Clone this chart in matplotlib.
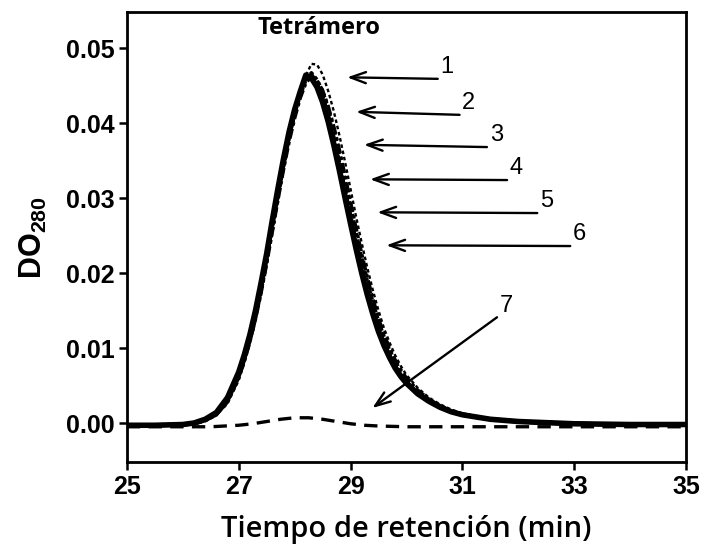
import matplotlib
matplotlib.use("Agg")
import matplotlib.pyplot as plt

# retention time grid (min)
t = [25.0, 25.5, 26.0, 26.2, 26.4, 26.6, 26.8,
     27.0, 27.1, 27.2, 27.3, 27.4, 27.5, 27.6, 27.7, 27.8, 27.9, 28.0, 28.1, 28.2, 28.3,
     28.4, 28.5, 28.6, 28.7, 28.8, 28.9, 29.0, 29.1, 29.2, 29.3, 29.4, 29.5, 29.6, 29.7,
     29.8, 29.9, 30.0, 30.2, 30.4, 30.6, 30.8, 31.0,
     31.5, 32.0, 33.0, 34.0, 35.0]

c1 = [-0.0003, -0.0003, -0.0003, -0.0002, 0.0003, 0.0010, 0.0026,
      0.0057, 0.0080, 0.0106, 0.0136, 0.0171, 0.0211, 0.0253, 0.0296, 0.0338, 0.0377, 0.0411, 0.0440, 0.0463, 0.0479,
      0.0478, 0.0465, 0.0443, 0.0416, 0.0384, 0.0349, 0.0312, 0.0275, 0.0240, 0.0207, 0.0177, 0.0150, 0.0126, 0.0107,
      0.0090, 0.0076, 0.0064, 0.0047, 0.0034, 0.0025, 0.0018, 0.0013,
      0.0005, 0.0001, -0.0002, -0.0003, -0.0003]
c2 = [-0.0003, -0.0003, -0.0002, 0.0000, 0.0005, 0.0014, 0.0034,
      0.0068, 0.0091, 0.0118, 0.0150, 0.0187, 0.0226, 0.0270, 0.0312, 0.0352, 0.0388, 0.0418, 0.0442, 0.0464, 0.0460,
      0.0448, 0.0428, 0.0402, 0.0371, 0.0337, 0.0301, 0.0266, 0.0232, 0.0200, 0.0171, 0.0145, 0.0122, 0.0103, 0.0087,
      0.0073, 0.0062, 0.0053, 0.0039, 0.0029, 0.0021, 0.0015, 0.0011,
      0.0005, 0.0002, -0.0001, -0.0002, -0.0002]
c3 = [-0.0003, -0.0003, -0.0002, -0.0001, 0.0004, 0.0012, 0.0031,
      0.0064, 0.0087, 0.0113, 0.0145, 0.0181, 0.0220, 0.0263, 0.0305, 0.0346, 0.0383, 0.0415, 0.0441, 0.0460, 0.0465,
      0.0453, 0.0436, 0.0411, 0.0381, 0.0347, 0.0311, 0.0276, 0.0241, 0.0208, 0.0178, 0.0151, 0.0127, 0.0107, 0.0090,
      0.0076, 0.0064, 0.0055, 0.0041, 0.0030, 0.0022, 0.0015, 0.0011,
      0.0005, 0.0002, -0.0001, -0.0002, -0.0002]
c4 = [-0.0003, -0.0003, -0.0002, 0.0000, 0.0005, 0.0013, 0.0033,
      0.0066, 0.0089, 0.0116, 0.0147, 0.0184, 0.0223, 0.0266, 0.0308, 0.0348, 0.0384, 0.0414, 0.0438, 0.0458, 0.0461,
      0.0450, 0.0431, 0.0406, 0.0376, 0.0342, 0.0306, 0.0271, 0.0237, 0.0204, 0.0174, 0.0148, 0.0125, 0.0105, 0.0089,
      0.0075, 0.0063, 0.0054, 0.0040, 0.0029, 0.0021, 0.0015, 0.0011,
      0.0005, 0.0002, -0.0001, -0.0002, -0.0002]
c5 = [-0.0003, -0.0003, -0.0002, -0.0001, 0.0003, 0.0011, 0.0029,
      0.0061, 0.0084, 0.0110, 0.0141, 0.0177, 0.0216, 0.0259, 0.0301, 0.0342, 0.0380, 0.0413, 0.0440, 0.0459, 0.0467,
      0.0458, 0.0443, 0.0420, 0.0392, 0.0360, 0.0325, 0.0289, 0.0254, 0.0220, 0.0189, 0.0161, 0.0136, 0.0115, 0.0097,
      0.0082, 0.0069, 0.0058, 0.0043, 0.0031, 0.0023, 0.0016, 0.0012,
      0.0005, 0.0002, -0.0001, -0.0002, -0.0002]
c6 = [-0.0003, -0.0003, -0.0002, -0.0001, 0.0003, 0.0011, 0.0028,
      0.0060, 0.0082, 0.0108, 0.0138, 0.0173, 0.0212, 0.0254, 0.0296, 0.0337, 0.0374, 0.0406, 0.0433, 0.0453, 0.0462,
      0.0457, 0.0444, 0.0423, 0.0396, 0.0365, 0.0331, 0.0295, 0.0260, 0.0226, 0.0195, 0.0166, 0.0140, 0.0118, 0.0100,
      0.0084, 0.0071, 0.0060, 0.0044, 0.0032, 0.0023, 0.0016, 0.0012,
      0.0005, 0.0002, -0.0001, -0.0002, -0.0002]

t7 = [25.0, 26.0, 26.5, 27.0, 27.25, 27.5, 27.75, 28.0, 28.25, 28.5, 28.75, 29.0, 29.25,
      29.5, 30.0, 31.0, 35.0]
c7 = [-0.0005, -0.0005, -0.0005, -0.0003, -0.0001, 0.0002, 0.0005, 0.0007, 0.0007, 0.0005,
      0.0002, -0.0001, -0.0003, -0.0004, -0.0005, -0.0005, -0.0005]

labels = ["1", "2", "3", "4", "5", "6", "7"]
head_x = [28.94, 29.10, 29.24, 29.35, 29.48, 29.64, 29.39]
head_y = [0.0461, 0.0415, 0.0371, 0.0325, 0.0281, 0.0237, 0.0020]
tail_x = [30.56, 30.95, 31.44, 31.80, 32.34, 32.93, 31.62]
tail_y = [0.0459, 0.0411, 0.0368, 0.0324, 0.0280, 0.0236, 0.0141]

xticks = [25, 27, 29, 31, 33, 35]
yticks = [0.00, 0.01, 0.02, 0.03, 0.04, 0.05]

fig = plt.figure(figsize=(7.05, 5.5), dpi=100)
ax = fig.add_axes([0.180, 0.160, 0.793, 0.818])

ax.plot(t, c2, color="black", lw=4.0, solid_capstyle="round", solid_joinstyle="round")
ax.plot(t, c4, color="black", lw=3.0, ls=(0, (1, 0.6)))
ax.plot(t, c3, color="black", lw=2.8, ls=(0, (2, 0.8)))
ax.plot(t, c5, color="black", lw=2.6, ls=(0, (1, 0.8)))
ax.plot(t, c6, color="black", lw=2.4, ls=(0, (3, 1, 1, 1)))
ax.plot(t, c1, color="black", lw=1.7, ls=(0, (1.5, 1.2)))
ax.plot(t7, c7, color="black", lw=2.4, ls=(0, (4, 2.5)))

for lab, hx, hy, tx, ty in zip(labels, head_x, head_y, tail_x, tail_y):
    ax.annotate("", xy=(hx, hy), xytext=(tx, ty),
                arrowprops=dict(arrowstyle="->,head_length=1.1,head_width=0.4",
                                color="black", lw=1.7, shrinkA=0, shrinkB=0))
    ax.text(tx + 0.05, ty + 0.0001, lab, fontsize=17, family="Liberation Sans",
            ha="left", va="bottom")

ax.text(28.44, 0.0527, "Tetrámero", fontsize=17, family="Open Sans",
        fontweight="bold", ha="center", va="center")

ax.set_xlim(25, 35)
ax.set_ylim(-0.0052, 0.0548)
ax.set_xticks(xticks)
ax.set_xticklabels([str(v) for v in xticks])
ax.set_yticks(yticks)
ax.set_yticklabels([f"{v:.2f}" for v in yticks])
for lab in ax.get_xticklabels() + ax.get_yticklabels():
    lab.set_fontfamily("Liberation Sans")
    lab.set_fontweight("bold")
    lab.set_fontsize(18)
ax.tick_params(direction="out", length=6, width=1.8, pad=3)
for s in ax.spines.values():
    s.set_linewidth(2)

ax.set_xlabel("Tiempo de retención (min)", fontsize=21, family="Open Sans",
              fontweight="semibold", labelpad=12)
ax.set_ylabel(r"DO$_{\mathregular{280}}$", fontsize=22, family="Liberation Sans",
              fontweight="bold", labelpad=12)

fig.savefig("out.png", dpi=100)
